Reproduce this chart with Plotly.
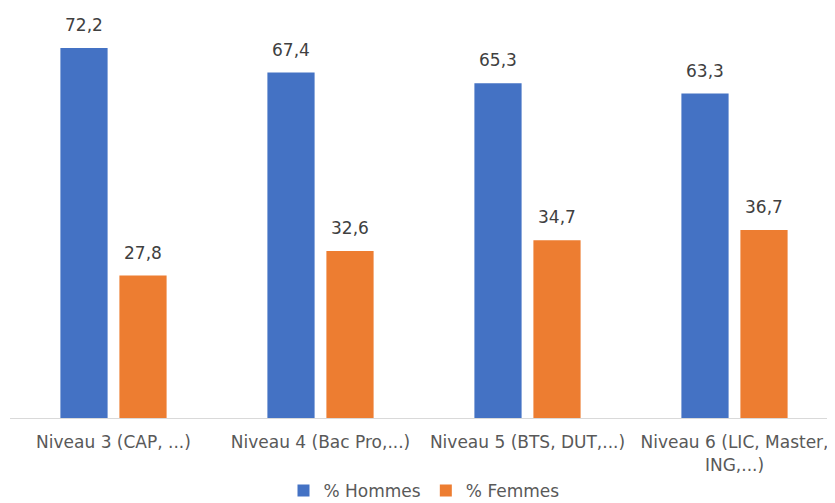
import plotly.graph_objects as go

categories = ["Niveau 3 (CAP, ...)", "Niveau 4 (Bac Pro,...)", "Niveau 5 (BTS, DUT,...)", "Niveau 6 (LIC, Master,<br>ING,...)"]
hommes = [72.2, 67.4, 65.3, 63.3]
femmes = [27.8, 32.6, 34.7, 36.7]
series_names = ["% Hommes", "% Femmes"]
colors = ["#4472C4", "#ED7D31"]

FONT = "DejaVu Sans, sans-serif"

fig = go.Figure()
for name, vals, col in zip(series_names, [hommes, femmes], colors):
    fig.add_trace(go.Bar(x=categories, y=vals, name=name, marker=dict(color=col, line=dict(width=0))))

label_font = dict(family=FONT, size=17, color="#404040")
for vals, xs in [(hommes, -29.5), (femmes, 29.5)]:
    for c, v in zip(categories, vals):
        fig.add_annotation(x=c, y=v, text=f"{v:.1f}".replace(".", ","), showarrow=False,
                           xshift=xs, yshift=23, yanchor="middle", font=label_font)

fig.update_layout(
    width=835, height=503,
    margin=dict(l=2, r=5, t=0, b=93, autoexpand=False),
    paper_bgcolor="white", plot_bgcolor="white",
    barmode="group", bargap=0.43, bargroupgap=0.2,
    showlegend=True,
    legend=dict(orientation="h", x=0.5, xanchor="center", yref="container", y=0.04, yanchor="middle",
                font=dict(family=FONT, size=17, color="#595959"),
                itemwidth=30, traceorder="normal"),
    xaxis=dict(showline=True, linecolor="#D9D9D9", linewidth=1, ticks="", automargin=False,
               tickfont=dict(family=FONT, size=17, color="#595959"),
               ticklabelstandoff=9),
    yaxis=dict(range=[0, 80], visible=False, showgrid=False),
)
fig.write_html("out.html")
